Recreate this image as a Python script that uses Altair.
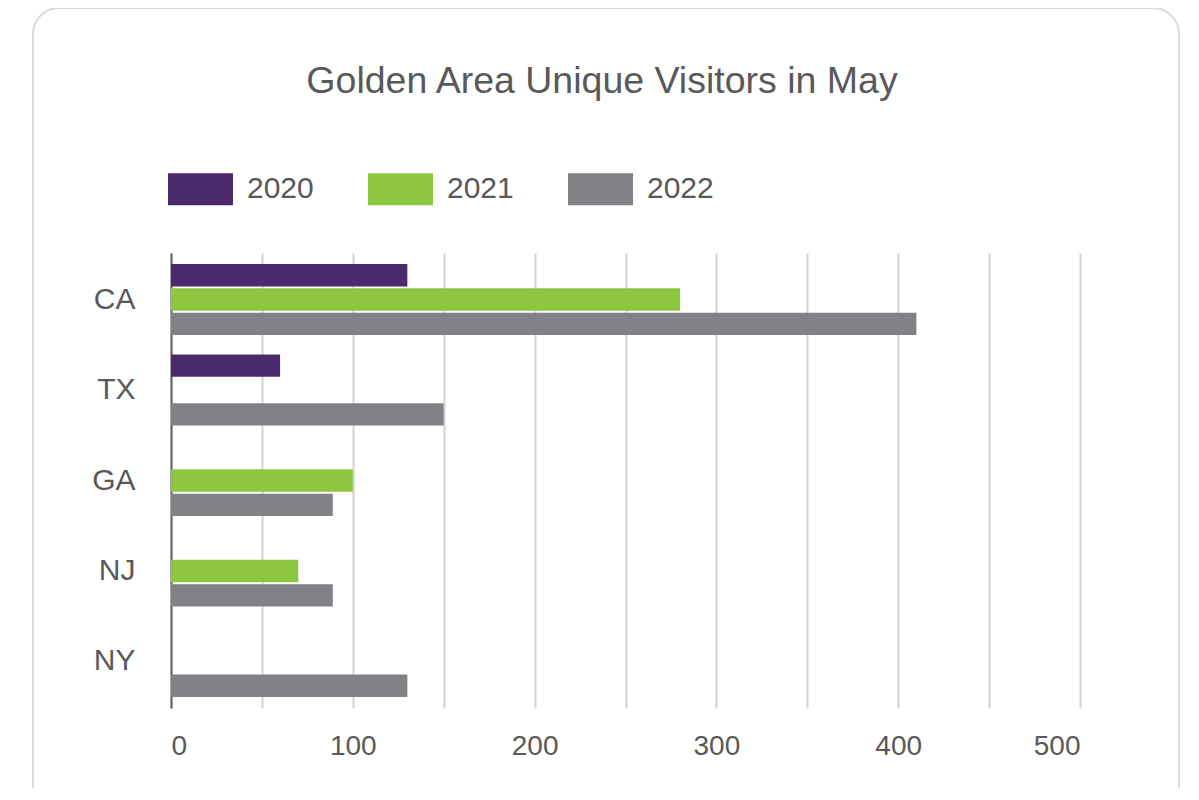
import altair as alt
import pandas as pd

# ---- data ----
states = ["CA", "TX", "GA", "NJ", "NY"]
years = ["2020", "2021", "2022"]
v2020 = [130, 60, None, None, None]
v2021 = [280, None, 100, 70, None]
v2022 = [410, 150, 89, 89, 130]
year_colors = ["#4B2A6C", "#8DC63F", "#818286"]
x_grid_values = [0, 50, 100, 150, 200, 250, 300, 350, 400, 450, 500]
title_text = "Golden Area Unique Visitors in May"

rows = []
for yr, vals in zip(years, [v2020, v2021, v2022]):
    for s, v in zip(states, vals):
        if v is not None:
            rows.append({"State": s, "Year": yr, "Visitors": v})
df = pd.DataFrame(rows)

TEXT = "#595959"
FONT = "Liberation Sans"

bars = alt.Chart(df).mark_bar().encode(
    x=alt.X(
        "Visitors:Q",
        scale=alt.Scale(domain=[0, 500], nice=False),
        axis=alt.Axis(
            values=x_grid_values,
            labelExpr="datum.value % 100 == 0 ? datum.label : ''",
            grid=True, gridColor="#d2d2d2", gridWidth=2,
            domain=False, ticks=False, tickSize=0,
            labelFont=FONT, labelFontSize=28, labelColor=TEXT,
            labelPadding=24, title=None,
        ),
    ),
    y=alt.Y(
        "State:N",
        sort=states,
        scale=alt.Scale(domain=states, paddingInner=0.215, paddingOuter=0.1216),
        axis=alt.Axis(
            grid=False, ticks=False, tickSize=0,
            domain=True, domainColor="#606060", domainWidth=2,
            labelFont=FONT, labelFontSize=30, labelColor=TEXT,
            labelPadding=36, title=None,
        ),
    ),
    yOffset=alt.YOffset(
        "Year:N", sort=years, scale=alt.Scale(domain=years, paddingInner=0.08)
    ),
    color=alt.Color(
        "Year:N",
        scale=alt.Scale(domain=years, range=year_colors),
        legend=alt.Legend(
            orient="none", legendX=-3, legendY=-96.5,
            direction="horizontal", title=None,
            symbolType="M-1,-0.49L1,-0.49L1,0.49L-1,0.49Z",
            symbolSize=4225, symbolStrokeWidth=0, symbolOpacity=1,
            labelFont=FONT, labelFontSize=30, labelColor=TEXT,
            labelOffset=14, columnPadding=54, padding=0,
        ),
    ),
)

frame = alt.Chart(alt.Data(values=[{}])).mark_rect(
    fill="#ffffff", fillOpacity=0, stroke="#dadada", strokeWidth=2, cornerRadius=26
).encode(
    x=alt.value(-138), x2=alt.value(1008), y=alt.value(-245), y2=alt.value(600)
)

chart = alt.layer(frame, bars).properties(
    width=909,
    height=455,
    autosize="none",
    padding={"left": 163, "top": 245, "right": 111, "bottom": 80},
    background="white",
    title=alt.TitleParams(
        text=title_text, font=FONT, fontSize=37.5, fontWeight="normal",
        color=TEXT, anchor="middle", frame="bounds", offset=0,
        baseline="alphabetic", dy=123, dx=-4,
    ),
).configure_view(stroke=None)

chart.save("out.html", embed_options={"renderer": "svg", "actions": False})
